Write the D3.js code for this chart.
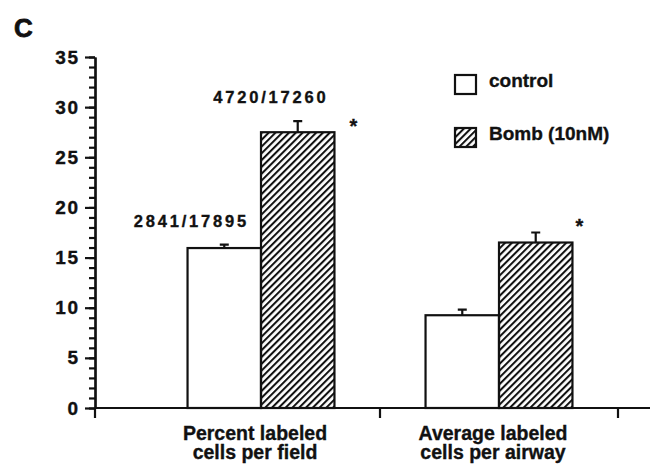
<!DOCTYPE html>
<html>
<head>
<meta charset="utf-8">
<script src="https://cdn.jsdelivr.net/npm/d3@7"></script>
<style>
  body { margin: 0; background: #fff; }
  svg text { font-family: "Liberation Sans", Arial, Helvetica, sans-serif; font-weight: bold; fill: #111; stroke: #111; stroke-width: 0.35px; }
</style>
</head>
<body>
<svg id="chart" width="650" height="466"></svg>
<script>
// data
let categories = ["Percent labeled|cells per field", "Average labeled|cells per airway"];
let series = ["control", "Bomb (10nM)"];
let controlValues = [15.95, 9.25];
let controlErrors = [0.35, 0.55];
let bombValues = [27.5, 16.5];
let bombErrors = [1.1, 1.0];
let countLabels = [["2841/17895", "4720/17260"], null];
let significant = [true, true];
let yTicks = [0, 5, 10, 15, 20, 25, 30, 35];

function drawChart() {
    let svg = d3.select("#chart");
    let width = +svg.attr("width");
    let ink = "#111";

    let yScale = d3.scaleLinear()
                    .domain([0, 35])
                    .range([408, 57]);
    let xScale = d3.scaleBand()
                    .domain(categories)
                    .range([142, 618]);
    let xInner = d3.scaleBand()
                    .domain(series)
                    .range([0, xScale.bandwidth()])
                    .paddingOuter(0.62);
    let originX = 95;

    // hatch pattern for the bombesin bars
    let defs = svg.append("defs");
    defs.append("pattern")
        .attr("id", "hatch")
        .attr("patternUnits", "userSpaceOnUse")
        .attr("width", 4.8)
        .attr("height", 4.8)
        .attr("patternTransform", "rotate(45)")
      .append("line")
        .attr("x1", 1).attr("y1", 0)
        .attr("x2", 1).attr("y2", 4.8)
        .attr("stroke", ink)
        .attr("stroke-width", 2.1);

    // panel letter
    svg.append("text")
        .attr("x", 14)
        .attr("y", 37)
        .style("font-size", "26px")
        .style("stroke-width", "0.8px")
        .text("C");

    // bars
    let rows = categories.map((c, i) => ({
        cat: c, i: i,
        vals: [
            {s: series[0], v: controlValues[i], e: controlErrors[i]},
            {s: series[1], v: bombValues[i], e: bombErrors[i]}
        ]
    }));

    let groups = svg.selectAll(".grp")
        .data(rows)
        .enter()
        .append("g")
          .classed("grp", true)
          .attr("transform", d => "translate(" + xScale(d.cat) + ",0)");

    // error bars (upper only)
    groups.selectAll(".err")
        .data(d => d.vals)
        .enter()
        .append("path")
          .classed("err", true)
          .attr("d", d => {
              let cx = xInner(d.s) + xInner.bandwidth() / 2;
              let top = yScale(d.v + d.e);
              return "M" + cx + "," + yScale(d.v) + "V" + top + "M" + (cx - 4.5) + "," + top + "H" + (cx + 4.5);
          })
          .attr("stroke", ink)
          .attr("stroke-width", 2.2)
          .attr("fill", "none");

    groups.selectAll(".bar")
        .data(d => d.vals)
        .enter()
        .append("rect")
          .classed("bar", true)
          .attr("x", d => xInner(d.s))
          .attr("width", xInner.bandwidth())
          .attr("y", d => yScale(d.v))
          .attr("height", d => yScale(0) - yScale(d.v))
          .attr("fill", (d, i) => i === 0 ? "#fff" : "url(#hatch)")
          .attr("stroke", ink)
          .attr("stroke-width", 2.2);

    // count labels over the first group
    let labelShift = [-12, -6];
    rows.forEach(r => {
        if (!countLabels[r.i]) return;
        r.vals.forEach((d, j) => {
            svg.append("text")
                .attr("x", xScale(r.cat) + xInner(d.s) + xInner.bandwidth() + labelShift[j])
                .attr("y", yScale(d.v + d.e) - 18)
                .attr("text-anchor", "end")
                .style("font-size", "16.5px")
                .style("letter-spacing", "2.8px")
                .text(countLabels[r.i][j]);
        });
    });

    // significance stars
    let starDx = [19, 7];
    let starDy = [12, 0];
    rows.forEach(r => {
        if (!significant[r.i]) return;
        let d = r.vals[1];
        svg.append("text")
            .attr("x", xScale(r.cat) + xInner(d.s) + xInner.bandwidth() + starDx[r.i])
            .attr("y", yScale(d.v + d.e) + starDy[r.i])
            .attr("text-anchor", "middle")
            .style("font-size", "20px")
            .text("*");
    });

    // y axis, major and minor ticks
    let yMinor = d3.axisLeft(yScale)
                    .tickValues(d3.range(0, 36, 1))
                    .tickSize(6)
                    .tickSizeOuter(0)
                    .tickFormat("");
    svg.append("g")
        .classed("y-minor", true)
        .attr("transform", "translate(" + originX + ",0)")
        .call(yMinor);

    let yAxis = d3.axisLeft(yScale)
                    .tickValues(yTicks)
                    .tickSize(10)
                    .tickSizeOuter(0)
                    .tickPadding(5.5);
    svg.append("g")
        .classed("y-axis", true)
        .attr("transform", "translate(" + originX + ",0)")
        .call(yAxis);

    svg.selectAll(".y-minor path, .y-minor line, .y-axis path, .y-axis line")
        .attr("stroke", ink)
        .attr("stroke-width", 2.2);
    svg.selectAll(".y-axis text")
        .style("font-size", "19px")
        .style("font-family", "'Liberation Sans', Arial, sans-serif")
        .style("letter-spacing", "1.5px")
        .attr("fill", ink);

    // x axis line with ticks at the group boundaries
    let xAxisG = svg.append("g").classed("x-axis", true);
    xAxisG.append("line")
        .attr("x1", originX)
        .attr("x2", width)
        .attr("y1", yScale(0))
        .attr("y2", yScale(0))
        .attr("stroke", ink)
        .attr("stroke-width", 2.2);
    let tickXs = [originX].concat(categories.map(c => xScale(c) + xScale.bandwidth()));
    xAxisG.selectAll(".xtick")
        .data(tickXs)
        .enter()
        .append("line")
          .attr("x1", d => d)
          .attr("x2", d => d)
          .attr("y1", yScale(0))
          .attr("y2", yScale(0) + 10)
          .attr("stroke", ink)
          .attr("stroke-width", 2.2);

    // category labels, two lines each
    categories.forEach(c => {
        c.split("|").forEach((line, k) => {
            svg.append("text")
                .attr("text-anchor", "middle")
                .attr("x", xScale(c) + xScale.bandwidth() / 2 - 6)
                .attr("y", 440 + k * 19)
                .style("font-size", "19.5px")
                .text(line);
        });
    });

    // legend
    let legend = svg.append("g")
                    .attr("transform", "translate(455,75)");
    series.forEach((s, i) => {
        legend.append("rect")
            .attr("x", 0)
            .attr("y", i * 53)
            .attr("width", 21)
            .attr("height", 19)
            .attr("fill", i === 0 ? "#fff" : "url(#hatch)")
            .attr("stroke", ink)
            .attr("stroke-width", 2.2);
        legend.append("text")
            .attr("x", 34)
            .attr("y", i * 53 + 12)
            .style("font-size", "19px")
            .text(s);
    });
}

drawChart();
</script>
</body>
</html>
